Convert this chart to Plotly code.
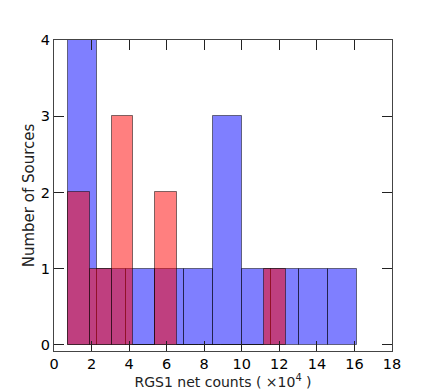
import plotly.graph_objects as go

# Bin edges and counts
blue_edges = [0.75, 2.29, 3.83, 5.37, 6.91, 8.45, 9.99, 11.53, 13.07, 14.61, 16.15]
blue_counts = [4, 1, 1, 1, 1, 3, 1, 1, 1, 1]
red_edges = [0.75, 1.91, 3.07, 4.23, 5.39, 6.55, 7.71, 8.87, 10.03, 11.19, 12.35]
red_counts = [2, 1, 3, 0, 2, 0, 0, 0, 0, 1]

x_ticks = [0, 2, 4, 6, 8, 10, 12, 14, 16, 18]
y_ticks = [0, 1, 2, 3, 4]


def centers(edges):
    return [(a + b) / 2 for a, b in zip(edges[:-1], edges[1:])]


def widths(edges):
    return [b - a for a, b in zip(edges[:-1], edges[1:])]


fig = go.Figure()
fig.add_trace(go.Bar(
    x=centers(blue_edges), y=blue_counts, width=widths(blue_edges),
    marker=dict(color="rgba(0,0,255,0.5)", line=dict(color="rgba(0,0,0,0.5)", width=1)),
    showlegend=False,
))
fig.add_trace(go.Bar(
    x=centers(red_edges), y=red_counts, width=widths(red_edges),
    marker=dict(color="rgba(255,0,0,0.5)", line=dict(color="rgba(0,0,0,0.5)", width=1)),
    showlegend=False,
))

axis_common = dict(
    showline=True, linecolor="#444", linewidth=1, mirror="ticks",
    ticks="inside", ticklen=10, tickwidth=1, tickcolor="#222",
    showgrid=False, zeroline=False, automargin=False,
    tickfont=dict(family="DejaVu Sans", size=14.5, color="black"),
)

# page body adds an 8px margin, so the figure is 8px smaller than the window
fig.update_layout(
    width=428, height=384,
    margin=dict(l=46, r=44, t=32, b=41),
    paper_bgcolor="white", plot_bgcolor="white",
    barmode="overlay", bargap=0,
    xaxis=dict(range=[0, 18], tickvals=x_ticks,
               title=dict(text="RGS1 net counts ( ×10<sup>4</sup> )",
                          font=dict(family="DejaVu Sans", size=14, color="#222"),
                          standoff=1),
               **axis_common),
    yaxis=dict(range=[-0.08, 4], tickvals=y_ticks,
               title=dict(text="Number of Sources",
                          font=dict(family="DejaVu Sans", size=15, color="#222"),
                          standoff=2),
               **axis_common),
)

fig.write_html("out.html")
